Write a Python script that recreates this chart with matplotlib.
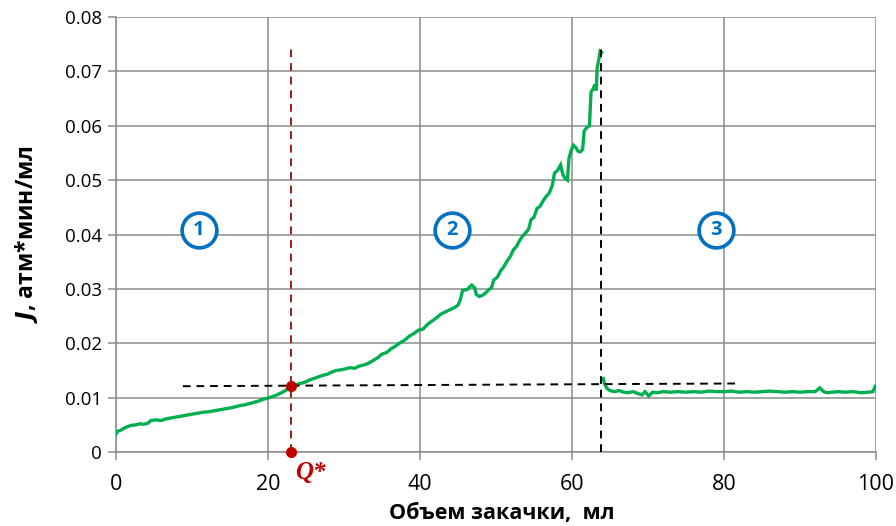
import matplotlib
matplotlib.use("Agg")
import matplotlib.pyplot as plt
import matplotlib.transforms as mtransforms

plt.rcParams['font.family'] = ['Open Sans', 'DejaVu Sans']

# Injection volume (ml) and J (atm*min/ml) before breakthrough
volume_pre = [0, 0.2, 0.6, 1.0, 1.4, 2.0, 2.6, 3.2, 3.6, 4.2, 4.6, 5.2, 6.0, 6.6,
              7.4, 8.2, 9.0, 9.8, 10.6, 11.4, 12.2, 13.0, 13.8, 14.6, 15.4, 16.2,
              17.0, 17.8, 18.6, 19.4, 20.2, 21.0, 21.8, 22.4, 23.0, 23.6, 24.2,
              24.8, 25.4, 26.0, 26.6, 27.2, 27.8, 28.4, 29.0, 29.6, 30.2, 30.8,
              31.4, 32.0, 32.6, 33.2, 33.8, 34.4, 35.0, 35.6, 36.2, 36.8, 37.4,
              38.0, 38.6, 39.2, 39.8, 40.4, 41.0, 41.6, 42.2, 42.8, 43.4, 44.0,
              44.6, 45.0, 45.3, 45.6, 46.2, 46.8, 47.2, 47.4, 47.8, 48.2, 48.6,
              49.0, 49.4, 49.7, 50.2, 50.6, 51.0, 51.5, 51.9, 52.3, 52.7, 53.1,
              53.5, 53.9, 54.3, 54.6, 55.0, 55.4, 55.8, 56.2, 56.6, 57.0, 57.4,
              57.7, 58.1, 58.5, 58.8, 59.1, 59.4, 59.6, 59.9, 60.2, 60.5, 60.8,
              61.1, 61.4, 61.6, 61.9, 62.3, 62.5, 62.8, 63.0, 63.2, 63.3, 63.5,
              63.7, 63.9]
j_pre = [0.0033, 0.0038, 0.0040, 0.0043, 0.0046, 0.0049, 0.0050, 0.0052, 0.0051,
         0.0053, 0.0058, 0.0059, 0.0058, 0.0061, 0.0063, 0.0065, 0.0067, 0.0069,
         0.0071, 0.0073, 0.0074, 0.0076, 0.0078, 0.0080, 0.0082, 0.0085, 0.0087,
         0.0090, 0.0093, 0.0097, 0.0100, 0.0104, 0.0109, 0.0114, 0.0121, 0.0123,
         0.0126, 0.0128, 0.0132, 0.0135, 0.0138, 0.0141, 0.0143, 0.0147, 0.0150,
         0.0151, 0.0153, 0.0155, 0.0154, 0.0158, 0.0160, 0.0163, 0.0168, 0.0173,
         0.0180, 0.0183, 0.0190, 0.0195, 0.0201, 0.0206, 0.0213, 0.0218, 0.0224,
         0.0226, 0.0235, 0.0241, 0.0247, 0.0254, 0.0258, 0.0262, 0.0266, 0.0270,
         0.0280, 0.0297, 0.0299, 0.0307, 0.0302, 0.0290, 0.0286, 0.0288, 0.0292,
         0.0298, 0.0302, 0.0316, 0.0322, 0.0333, 0.0340, 0.0352, 0.0360, 0.0372,
         0.0378, 0.0389, 0.0397, 0.0403, 0.0410, 0.0427, 0.0432, 0.0448, 0.0452,
         0.0462, 0.0470, 0.0476, 0.0490, 0.0513, 0.0518, 0.0528, 0.0510, 0.0503,
         0.0500, 0.0540, 0.0555, 0.0564, 0.0560, 0.0553, 0.0552, 0.0557, 0.0590,
         0.0596, 0.0600, 0.0662, 0.0668, 0.0676, 0.0665, 0.0705, 0.0720, 0.0737,
         0.0735]

# After breakthrough
volume_post = [64.1, 64.3, 64.6, 65.0, 65.6, 66.2, 66.8, 67.4, 68.0, 68.6, 69.2,
               69.6, 70.1, 70.6, 71.2, 72.0, 73.0, 74.0, 75.0, 76.0, 77.0, 78.0,
               79.0, 80.0, 81.0, 82.0, 83.0, 84.0, 85.0, 86.0, 87.0, 88.0, 89.0,
               90.0, 91.0, 92.0, 92.6, 93.1, 93.6, 94.2, 95.0, 96.0, 97.0, 98.0,
               99.0, 99.6, 99.9]
j_post = [0.0135, 0.0125, 0.0117, 0.0113, 0.0111, 0.0113, 0.0110, 0.0109, 0.0111,
          0.0108, 0.0105, 0.0111, 0.0103, 0.0110, 0.0109, 0.0111, 0.0110, 0.0111,
          0.0110, 0.0111, 0.0110, 0.0112, 0.0111, 0.0111, 0.0112, 0.0110, 0.0111,
          0.0110, 0.0111, 0.0112, 0.0111, 0.0110, 0.0111, 0.0110, 0.0111, 0.0111,
          0.0118, 0.0111, 0.0109, 0.0110, 0.0111, 0.0110, 0.0111, 0.0109, 0.0110,
          0.0111, 0.0121]

x_ticks = [0, 20, 40, 60, 80, 100]
y_ticks = [0, 0.01, 0.02, 0.03, 0.04, 0.05, 0.06, 0.07, 0.08]
y_tick_labels = ['0', '0.01', '0.02', '0.03', '0.04', '0.05', '0.06', '0.07', '0.08']

# Critical point Q*
q_star = 23.0
j_star = 0.0122
guide_top = 0.0745
# Tangent line and breakthrough marker
tangent_x = [8.8, 81.5]
tangent_y = [0.0121, 0.0126]
breakthrough = 63.8
# Stage labels
stage_labels = ['1', '2', '3']
stage_x = [10.9, 44.2, 78.9]
stage_y = 0.0408

GRID = '#8c8c8c'
GREEN = '#00b050'
BLUE = '#0070c0'
DARKRED = '#9b1b1b'
DASH = (0, (4, 3))

fig = plt.figure(figsize=(8.96, 5.26), dpi=100)
ax = fig.add_axes([116 / 896, 1 - 452 / 526, 760 / 896, 435 / 526])

ax.set_xlim(0, 100)
ax.set_ylim(0, 0.08)
ax.set_xticks(x_ticks)
ax.set_yticks(y_ticks)
ax.set_yticklabels(y_tick_labels)
ax.grid(True, color=GRID, linewidth=1.1)
ax.set_axisbelow(True)
for s in ['top', 'right']:
    ax.spines[s].set_visible(False)
for s in ['left', 'bottom']:
    ax.spines[s].set_color(GRID)
    ax.spines[s].set_linewidth(1.1)
ax.tick_params(axis='both', colors=GRID, labelcolor='black',
               length=6, width=1.1, direction='out')
ax.tick_params(axis='x', pad=10, labelsize=15.5)
ax.tick_params(axis='y', pad=4, labelsize=13.5)

ax.plot(volume_pre, j_pre, color=GREEN, linewidth=2.4, zorder=3,
        solid_joinstyle='miter')
ax.plot(volume_post, j_post, color=GREEN, linewidth=2.4, zorder=3,
        solid_joinstyle='miter')

# Guide lines
ax.plot(tangent_x, tangent_y, color='black', linestyle=DASH, linewidth=1.4, zorder=4)
ax.plot([breakthrough, breakthrough], [0, guide_top], color='black',
        linestyle=DASH, linewidth=1.4, zorder=4)
ax.plot([q_star, q_star], [0, guide_top], color=DARKRED,
        linestyle=DASH, linewidth=1.4, zorder=4)
ax.plot([q_star, q_star], [0, j_star], 'o', color='#c00000', markersize=7,
        zorder=5, clip_on=False)

trans = mtransforms.blended_transform_factory(ax.transData, ax.transAxes)
ax.text(q_star + 0.5, -0.02, 'Q*', transform=trans, ha='left', va='top',
        fontsize=18, color='#c00000', fontweight='bold', fontstyle='italic',
        family=['Liberation Serif', 'DejaVu Serif'])

# Stage markers
for lbl, sx in zip(stage_labels, stage_x):
    ax.plot(sx, stage_y, 'o', markersize=25, markerfacecolor='white',
            markeredgecolor=BLUE, markeredgewidth=2.6, zorder=6)
    ax.text(sx, stage_y, lbl, ha='center', va='center', fontsize=14.5,
            fontweight='bold', color=BLUE, zorder=7)

fig.text(502 / 896, 1 - 519 / 526, 'Объем закачки,  мл', ha='center',
         va='baseline', fontsize=15.5, fontweight='bold')
fig.text(26 / 896, 1 - 234.5 / 526, r'$\mathbfit{J}$, атм*мин/мл', ha='center',
         va='center', rotation=90, fontsize=16.5, fontweight='bold')

fig.savefig('out.png', dpi=100)
